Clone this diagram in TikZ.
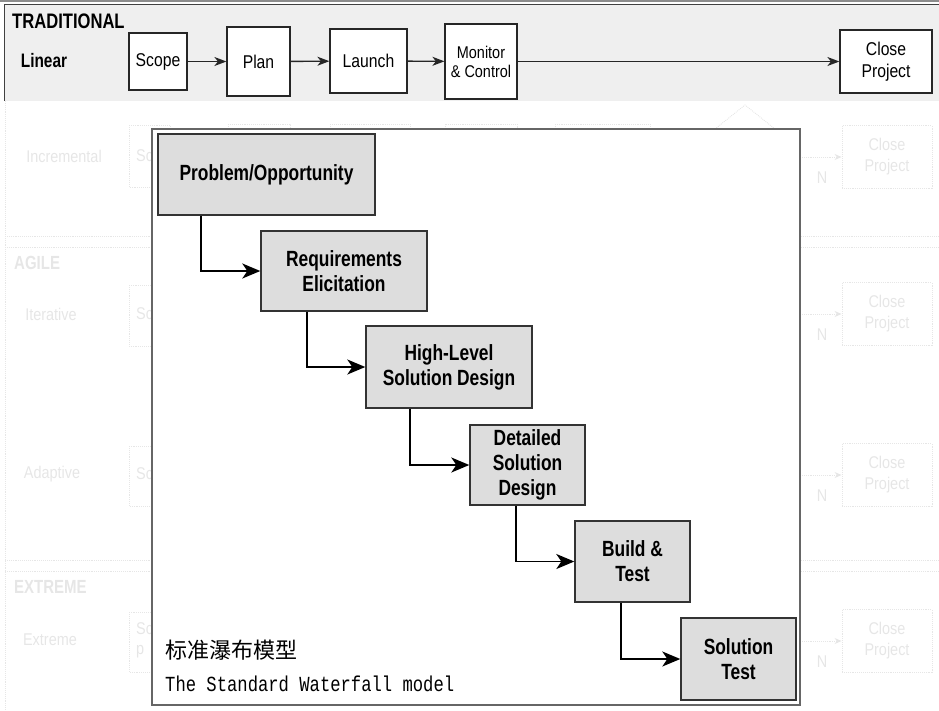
\documentclass[tikz,border=0pt]{standalone}
\usepackage{fontspec}
\setmainfont{Liberation Sans}
\newfontfamily\cond[FakeStretch=0.85]{Liberation Sans}
\newfontfamily\condb[FakeStretch=0.79]{Liberation Sans}
\newfontfamily\cjkfont{Noto Sans CJK SC}
\newfontfamily\monof[FakeStretch=0.8]{Liberation Mono}
\usetikzlibrary{arrows.meta}
\definecolor{barfill}{HTML}{EFEFEF}
\definecolor{wffill}{HTML}{DDDDDD}
\definecolor{faintc}{HTML}{E6E6E6}
\begin{document}
\begin{tikzpicture}[x=1pt,y=-1pt,
  topbox/.style={draw=black!85, line width=1.2pt, fill=white, inner sep=0pt, align=center,
    font=\cond\fontsize{18.5}{22}\selectfont},
  toparrow/.style={-{Stealth[length=12pt,width=9pt,inset=3.5pt]}, line width=1.4pt, black!85},
  wfbox/.style={draw=black!80, line width=1.4pt, fill=wffill, inner sep=0pt, align=center,
    font=\condb\bfseries\fontsize{22}{25}\selectfont},
  wfarrow/.style={-{Stealth[length=18pt,width=15pt,inset=5pt]}, line width=1.8pt, black},
  faintline/.style={faintc, densely dotted, line width=0.9pt},
  fainttext/.style={text=faintc, font=\cond\fontsize{17}{21}\selectfont, align=center, inner sep=0pt},
  fainthead/.style={text=faintc, font=\condb\bfseries\fontsize{19}{22}\selectfont, inner sep=0pt, anchor=west}
]
\useasboundingbox (0,0) rectangle (939,710);

% ---------- faint background (other life cycles) ----------
\draw[faintline] (5,101) -- (5,710);
\draw[faintline] (5,236) -- (939,236);
\draw[faintline] (5,247) -- (939,247);
\draw[faintline] (5,560) -- (939,560);
\draw[faintline] (5,571) -- (939,571);
\node[fainttext] (fInc) at (64,156) {Incremental};
\node[fainthead] (fAgile) at (14,263) {AGILE};
\node[fainttext] (fIter) at (51,314) {Iterative};
\node[fainttext] (fAdap) at (52,474) {Adaptive};
\node[fainthead] (fExtH) at (14,587) {EXTREME};
\node[fainttext] (fExt) at (50,640) {Extreme};
\draw[faintline] (129,125) rectangle (170,187);
\draw[faintline] (129,285) rectangle (170,346);
\draw[faintline] (129,446) rectangle (170,506);
\draw[faintline] (129,612) rectangle (170,672);
\node[fainttext, anchor=west] (fs1) at (136,156) {Sc};
\node[fainttext, anchor=west] (fs2) at (136,314) {Sc};
\node[fainttext, anchor=west] (fs3) at (136,474) {Sc};
\node[fainttext, anchor=west] (fs4) at (136,629) {Sc};
\node[fainttext, anchor=west] (fs5) at (136,652) {p};
\draw[faintline] (228,124) rectangle (290,150);
\draw[faintline] (330,124) rectangle (410,150);
\draw[faintline] (445,124) rectangle (517,150);
\draw[faintline] (555,124) rectangle (650,150);
\draw[faintline] (715,129) -- (745,105) -- (775,129);
\foreach \yc/\n in {157/a, 314/b, 475/c, 641/d}{
  \node[fainttext, draw=faintc, densely dotted, line width=0.9pt, minimum width=90pt, minimum height=63pt]
    (fc\n) at (887,\yc) {Close\\Project};
  \coordinate (fa\n) at (800,\yc);
  \draw[faintline, -{Stealth[length=7pt,width=6pt]}] (fa\n) -- (fc\n.west);
  \node[fainttext] (fn\n) at (822,\yc+21) {N};
}

% ---------- top bar: TRADITIONAL ----------
\fill[barfill] (4,4) rectangle (939,101);
\draw[black!45, line width=2.5pt] (0,1.2) -- (939,1.2);
\draw[black!75, line width=1pt] (4,4) -- (939,4);
\draw[black!75, line width=1.2pt] (4.5,4) -- (4.5,101);
\node[font=\condb\bfseries\fontsize{21}{24}\selectfont, anchor=west, inner sep=0pt] (trad) at (12,21) {TRADITIONAL};
\node[font=\condb\bfseries\fontsize{19.5}{22}\selectfont, inner sep=0pt] (linear) at (44,61) {Linear};
\node[topbox, minimum width=58pt, minimum height=57pt] (scope) at (158,61.5) {Scope};
\node[topbox, minimum width=63pt, minimum height=69pt] (plan) at (258.5,61.5) {Plan};
\node[topbox, minimum width=77pt, minimum height=64pt] (launch) at (368.5,61) {Launch};
\node[topbox, minimum width=72pt, minimum height=75pt, font=\cond\fontsize{17}{19}\selectfont] (monitor) at (481,61.5) {Monitor\\\& Control};
\node[topbox, minimum width=92pt, minimum height=63pt] (close) at (886,61.5) {Close\\Project};
\draw[toparrow] (scope) -- (plan);
\draw[toparrow] (plan) -- (launch);
\draw[toparrow] (launch) -- (monitor);
\draw[toparrow] (monitor) -- (close);

% ---------- overlay: standard waterfall ----------
\draw[black!60, line width=1.5pt, fill=white] (152,129) rectangle (800,705);
\node[wfbox, minimum width=217pt, minimum height=81pt] (p1) at (266.5,174.5) {Problem/Opportunity};
\node[wfbox, minimum width=166pt, minimum height=80pt] (p2) at (344,271) {Requirements\\Elicitation};
\node[wfbox, minimum width=166pt, minimum height=82pt] (p3) at (449,367) {High-Level\\Solution Design};
\node[wfbox, minimum width=115pt, minimum height=80pt] (p4) at (527.5,465) {Detailed\\Solution\\Design};
\node[wfbox, minimum width=115pt, minimum height=81pt] (p5) at (632.5,561.5) {Build \&\\Test};
\node[wfbox, minimum width=115pt, minimum height=82pt] (p6) at (738.5,659) {Solution\\Test};
\draw[wfarrow] ([xshift=44pt]p1.south west) |- (p2.west);
\draw[wfarrow] ([xshift=47pt]p2.south west) |- (p3.west);
\draw[wfarrow] ([xshift=45pt]p3.south west) |- (p4.west);
\draw[wfarrow] ([xshift=47pt]p4.south west) |- (p5.west);
\draw[wfarrow] ([xshift=47pt]p5.south west) |- (p6.west);
\node[anchor=west, inner sep=0pt, font=\cjkfont\fontsize{22}{26}\selectfont] (cn) at (165,650) {标准瀑布模型};
\node[anchor=west, inner sep=0pt, font=\monof\fontsize{21.5}{24}\selectfont] (en) at (165,684) {The Standard Waterfall model};
\end{tikzpicture}
\end{document}
